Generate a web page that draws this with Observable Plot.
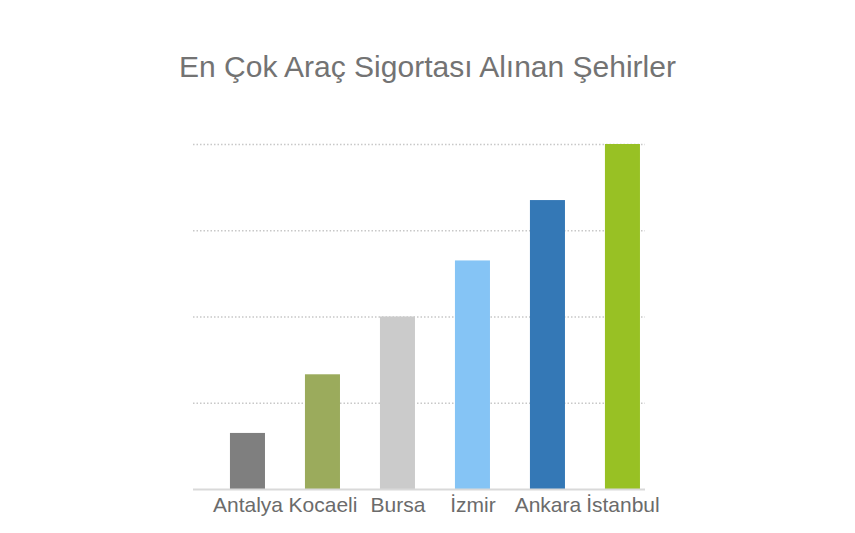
<!DOCTYPE html>
<html>
<head>
<meta charset="utf-8">
<script src="https://cdn.jsdelivr.net/npm/d3@7"></script>
<script src="https://cdn.jsdelivr.net/npm/@observablehq/plot@0.6"></script>
<style>
  html, body { margin: 0; padding: 0; background: #ffffff; }
  #title { height: 100px; box-sizing: border-box; padding-top: 49px; text-align: center;
           font-family: "Liberation Sans", Arial, sans-serif; font-size: 30px; color: #737373; line-height: 36px; }
  #chart svg { display: block; }
</style>
</head>
<body>
<div id="title">En Çok Araç Sigortası Alınan Şehirler</div>
<div id="chart"></div>
<script>
const cities = ["Antalya", "Kocaeli", "Bursa", "İzmir", "Ankara", "İstanbul"];
const values = [0.65, 1.33, 2.0, 2.65, 3.35, 4.0];
const colors = ["#7f7f7f", "#9bab5c", "#cbcbcb", "#85c4f5", "#3478b6", "#98c124"];
const gridTicks = [1, 2, 3, 4];

const data = cities.map((c, i) => ({city: c, value: values[i], color: colors[i]}));

const chart = Plot.plot({
  width: 855,
  height: 433,
  marginLeft: 193,
  marginRight: 210,
  marginTop: 44,
  marginBottom: 44,
  style: {fontFamily: "Liberation Sans, Arial, sans-serif", color: "#6b6b6b", background: "#ffffff"},
  x: {domain: cities, paddingInner: 0.533, paddingOuter: 0.28, align: 0.88, round: false, label: null},
  y: {domain: [0, 4], label: null, axis: null},
  marks: [
    Plot.ruleY(gridTicks, {stroke: "#c8c8c8", strokeWidth: 1.5, strokeDasharray: "1.5,2"}),
    Plot.barY(data, {x: "city", y: "value", fill: "color"}),
    Plot.ruleY([0], {stroke: "#d9d9d9", strokeWidth: 2}),
    Plot.axisX({tickSize: 0, tickPadding: 8, fontSize: 21, fill: "#6b6b6b", label: null})
  ]
});
document.getElementById("chart").appendChild(chart);
</script>
</body>
</html>
